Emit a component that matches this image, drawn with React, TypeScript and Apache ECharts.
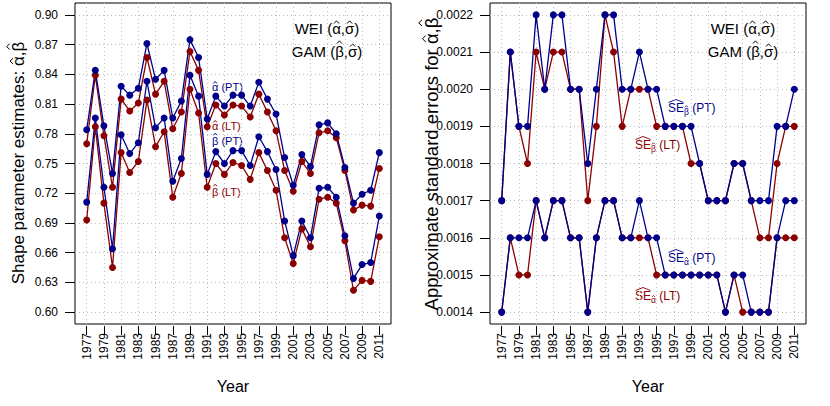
import React, { useEffect, useRef } from 'react';
import * as echarts from 'echarts';

const years = [1977, 1978, 1979, 1980, 1981, 1982, 1983, 1984, 1985, 1986, 1987, 1988, 1989, 1990, 1991, 1992, 1993, 1994, 1995, 1996, 1997, 1998, 1999, 2000, 2001, 2002, 2003, 2004, 2005, 2006, 2007, 2008, 2009, 2010, 2011];
const tickYears = [1977, 1979, 1981, 1983, 1985, 1987, 1989, 1991, 1993, 1995, 1997, 1999, 2001, 2003, 2005, 2007, 2009, 2011];
const leftTicks = [0.6, 0.63, 0.66, 0.69, 0.72, 0.75, 0.78, 0.81, 0.84, 0.87, 0.9];
const rightTicks = [0.0014, 0.0015, 0.0016, 0.0017, 0.0018, 0.0019, 0.002, 0.0021, 0.0022];

const alphaPT = [0.784, 0.844, 0.788, 0.740, 0.828, 0.819, 0.826, 0.871, 0.835, 0.844, 0.796, 0.813, 0.875, 0.857, 0.795, 0.818, 0.808, 0.819, 0.819, 0.808, 0.832, 0.815, 0.800, 0.756, 0.728, 0.759, 0.747, 0.789, 0.791, 0.780, 0.746, 0.710, 0.719, 0.723, 0.761];
const alphaLT = [0.770, 0.839, 0.778, 0.726, 0.815, 0.803, 0.811, 0.857, 0.820, 0.833, 0.785, 0.802, 0.863, 0.844, 0.787, 0.809, 0.799, 0.809, 0.808, 0.797, 0.820, 0.802, 0.783, 0.743, 0.722, 0.752, 0.740, 0.781, 0.783, 0.776, 0.743, 0.703, 0.708, 0.707, 0.745];
const betaPT = [0.711, 0.796, 0.726, 0.664, 0.779, 0.760, 0.771, 0.833, 0.786, 0.796, 0.732, 0.755, 0.839, 0.818, 0.739, 0.762, 0.750, 0.763, 0.763, 0.748, 0.777, 0.762, 0.744, 0.692, 0.657, 0.692, 0.675, 0.725, 0.726, 0.716, 0.677, 0.634, 0.648, 0.650, 0.697];
const betaLT = [0.693, 0.787, 0.710, 0.645, 0.761, 0.741, 0.752, 0.814, 0.767, 0.782, 0.716, 0.740, 0.825, 0.801, 0.726, 0.750, 0.739, 0.751, 0.748, 0.734, 0.761, 0.743, 0.723, 0.675, 0.649, 0.684, 0.666, 0.714, 0.716, 0.710, 0.672, 0.622, 0.632, 0.631, 0.676];

const seBetaPT = [0.0017, 0.0021, 0.0019, 0.0019, 0.0022, 0.0020, 0.0022, 0.0022, 0.0020, 0.0020, 0.0018, 0.0020, 0.0022, 0.0022, 0.0020, 0.0020, 0.0021, 0.0020, 0.0020, 0.0019, 0.0019, 0.0019, 0.0019, 0.0018, 0.0017, 0.0017, 0.0017, 0.0018, 0.0018, 0.0017, 0.0017, 0.0017, 0.0019, 0.0019, 0.0020];
const seBetaLT = [0.0017, 0.0021, 0.0019, 0.0018, 0.0021, 0.0020, 0.0021, 0.0021, 0.0020, 0.0020, 0.0017, 0.0019, 0.0022, 0.0021, 0.0019, 0.0020, 0.0020, 0.0020, 0.0019, 0.0019, 0.0019, 0.0019, 0.0018, 0.0018, 0.0017, 0.0017, 0.0017, 0.0018, 0.0018, 0.0017, 0.0016, 0.0016, 0.0018, 0.0019, 0.0019];
const seAlphaPT = [0.0014, 0.0016, 0.0016, 0.0016, 0.0017, 0.0016, 0.0017, 0.0017, 0.0016, 0.0016, 0.0014, 0.0016, 0.0017, 0.0017, 0.0016, 0.0016, 0.0017, 0.0016, 0.0016, 0.0015, 0.0015, 0.0015, 0.0015, 0.0015, 0.0015, 0.0015, 0.0014, 0.0015, 0.0015, 0.0014, 0.0014, 0.0014, 0.0016, 0.0017, 0.0017];
const seAlphaLT = [0.0014, 0.0016, 0.0015, 0.0015, 0.0017, 0.0016, 0.0017, 0.0017, 0.0016, 0.0016, 0.0014, 0.0016, 0.0017, 0.0017, 0.0016, 0.0016, 0.0016, 0.0016, 0.0015, 0.0015, 0.0015, 0.0015, 0.0015, 0.0015, 0.0015, 0.0015, 0.0014, 0.0015, 0.0014, 0.0014, 0.0014, 0.0014, 0.0016, 0.0016, 0.0016];

const BLUE = '#00008B';
const RED = '#8B0000';
const FONT = '"Liberation Sans", Arial, Helvetica, sans-serif';

function lineSeries(name: string, values: number[], color: string, idx: number) {
  return {
    type: 'line',
    name,
    xAxisIndex: idx,
    yAxisIndex: idx,
    data: years.map((y, i) => [y, values[i]]),
    symbol: 'circle',
    symbolSize: 7,
    lineStyle: { color, width: 1.3 },
    itemStyle: { color },
    emphasis: { disabled: true },
  };
}

function xAxis(idx: number) {
  return {
    type: 'value',
    gridIndex: idx,
    min: 1975.64,
    max: 2012.36,
    offset: 2,
    axisLine: { show: false },
    axisTick: { show: true, customValues: tickYears, length: 9, lineStyle: { color: '#000', width: 1 } },
    axisLabel: { customValues: tickYears, rotate: 90, margin: 7, fontSize: 12, color: '#000', fontFamily: FONT, formatter: (v: number) => String(Math.round(v)) },
    splitLine: { show: true, lineStyle: { color: '#bdbdbd', type: [1, 3], width: 1 } },
  };
}

function yAxis(idx: number, min: number, max: number, ticks: number[], digits: number) {
  return {
    type: 'value',
    gridIndex: idx,
    min,
    max,
    axisLine: { show: false },
    axisTick: { show: true, customValues: ticks, length: 10, lineStyle: { color: '#000', width: 1 } },
    axisLabel: { customValues: ticks, margin: 17, fontSize: 12, color: '#000', fontFamily: FONT, formatter: (v: number) => v.toFixed(digits) },
    splitLine: { show: true, lineStyle: { color: '#bdbdbd', type: [1, 3], width: 1 } },
  };
}

let measureCtx: CanvasRenderingContext2D | null = null;
function textWidth(s: string, size: number) {
  if (!measureCtx) measureCtx = document.createElement('canvas').getContext('2d');
  if (!measureCtx) return s.length * size * 0.55;
  measureCtx.font = `${size}px ${FONT}`;
  return measureCtx.measureText(s).width;
}

type Seg = { s: string; hat?: boolean; tall?: boolean; dy?: number; size?: number };

// Text built from runs; letters flagged with hat get a small wedge drawn above them
function mathLabel(segs: Seg[], x: number, y: number, color: string, size: number, align = 'left', rotation = 0, extra: any[] = []) {
  const widths = segs.map((g) => textWidth(g.s, g.size ?? size));
  const total = widths.reduce((a, b) => a + b, 0);
  let cx = align === 'center' ? -total / 2 : 0;
  const children: any[] = [];
  segs.forEach((g, i) => {
    const sz = g.size ?? size;
    const w = widths[i];
    const dy = g.dy ?? 0;
    children.push({
      type: 'text',
      x: cx,
      y: dy,
      style: { text: g.s, fill: color, fontSize: sz, fontFamily: FONT, textAlign: 'left', textVerticalAlign: 'middle', align: 'left', verticalAlign: 'middle' },
    });
    if (g.hat) {
      const mid = cx + w / 2;
      const base = dy - sz * (g.tall ? 0.43 : 0.23) - 1;
      const hw = Math.max(1.6, sz * 0.17);
      const hh = Math.max(1.6, sz * 0.18);
      children.push({
        type: 'polyline',
        shape: { points: [[mid - hw, base], [mid, base - hh], [mid + hw, base]] },
        style: { stroke: color, lineWidth: sz > 10 ? 1 : 0.8, fill: null },
      });
    }
    cx += w;
  });
  extra.forEach((e) => children.push(e(color)));
  return { type: 'group', x, y, rotation, silent: true, children };
}

function seLabel(sub: string, tag: string, x: number, y: number, color: string) {
  const seW = textWidth('SE', 12);
  return mathLabel(
    [{ s: 'SE' }, { s: sub, size: 8.5, dy: 4, hat: true, tall: sub === 'β' }, { s: ' ' + tag }],
    x, y, color, 12, 'left', 0,
    [(c: string) => ({
      type: 'polyline',
      shape: { points: [[0.5, -5.5], [seW / 2, -8.5], [seW - 0.5, -5.5]] },
      style: { stroke: c, lineWidth: 0.9, fill: null },
    })],
  );
}

export default function App() {
  const ref = useRef<HTMLDivElement>(null);
  useEffect(() => {
    if (!ref.current) return;
    const chart = echarts.init(ref.current, null, { renderer: 'svg' });
    const wei: Seg[] = [{ s: 'WEI (' }, { s: 'α', hat: true }, { s: ',' }, { s: 'σ', hat: true }, { s: ')' }];
    const gam: Seg[] = [{ s: 'GAM (' }, { s: 'β', hat: true, tall: true }, { s: ',' }, { s: 'σ', hat: true }, { s: ')' }];
    chart.setOption({
      animation: false,
      backgroundColor: '#fff',
      textStyle: { fontFamily: FONT },
      grid: [
        { left: 75, top: 3, width: 316, height: 321, show: true, borderColor: '#000', borderWidth: 1, containLabel: false, outerBoundsMode: 'none' },
        { left: 490, top: 3, width: 316, height: 321, show: true, borderColor: '#000', borderWidth: 1, containLabel: false, outerBoundsMode: 'none' },
      ],
      xAxis: [xAxis(0), xAxis(1)],
      yAxis: [
        yAxis(0, 0.588, 0.912, leftTicks, 2),
        yAxis(1, 0.001368, 0.002232, rightTicks, 4),
      ],
      series: [
        lineSeries('alpha LT', alphaLT, RED, 0),
        lineSeries('beta LT', betaLT, RED, 0),
        lineSeries('alpha PT', alphaPT, BLUE, 0),
        lineSeries('beta PT', betaPT, BLUE, 0),
        lineSeries('SE beta LT', seBetaLT, RED, 1),
        lineSeries('SE alpha LT', seAlphaLT, RED, 1),
        lineSeries('SE beta PT', seBetaPT, BLUE, 1),
        lineSeries('SE alpha PT', seAlphaPT, BLUE, 1),
      ],
      graphic: [
        mathLabel(wei, 327, 28, '#000', 15, 'center'),
        mathLabel(gam, 327, 51, '#000', 15, 'center'),
        mathLabel(wei, 743, 28, '#000', 15, 'center'),
        mathLabel(gam, 743, 51, '#000', 15, 'center'),
        mathLabel([{ s: 'α', hat: true }, { s: ' (PT)' }], 212, 87, BLUE, 11),
        mathLabel([{ s: 'α', hat: true }, { s: ' (LT)' }], 212, 126, RED, 11),
        mathLabel([{ s: 'β', hat: true, tall: true }, { s: ' (PT)' }], 212, 141, BLUE, 11),
        mathLabel([{ s: 'β', hat: true, tall: true }, { s: ' (LT)' }], 212, 192, RED, 11),
        seLabel('β', '(PT)', 668, 108, BLUE),
        seLabel('β', '(LT)', 635, 145, RED),
        seLabel('α', '(PT)', 668, 258, BLUE),
        seLabel('α', '(LT)', 635, 296, RED),
        mathLabel([{ s: 'Year' }], 233, 386, '#000', 16, 'center'),
        mathLabel([{ s: 'Year' }], 648, 386, '#000', 16, 'center'),
        mathLabel([{ s: 'Shape parameter estimates: ' }, { s: 'α', hat: true }, { s: ',' }, { s: 'β', hat: true, tall: true }], 18, 163, '#000', 17, 'center', Math.PI / 2),
        mathLabel([{ s: 'Approximate standard errors for ' }, { s: 'α', hat: true }, { s: ',' }, { s: 'β', hat: true, tall: true }], 431, 164, '#000', 18.5, 'center', Math.PI / 2),
      ],
    });
    return () => chart.dispose();
  }, []);
  return <div ref={ref} style={{ position: 'absolute', left: 0, top: 0, width: 830, height: 406 }} />;
}
